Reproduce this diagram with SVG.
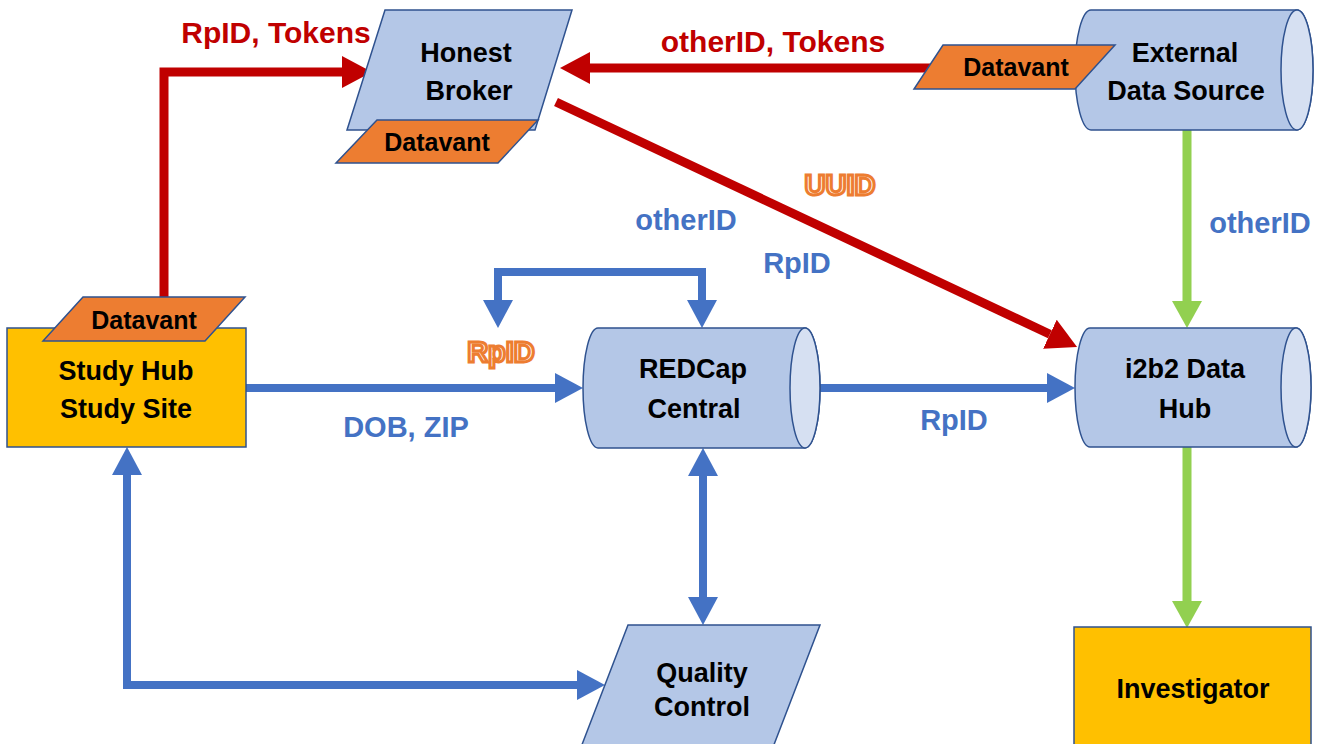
<svg xmlns="http://www.w3.org/2000/svg" width="1320" height="744" viewBox="0 0 1320 744">
<defs>
<style>
.node{fill:#B4C7E7;stroke:#2F528F;stroke-width:1.5}
.cap{fill:#D6E0F2;stroke:#2F528F;stroke-width:1.5}
.dv{fill:#ED7D31;stroke:#2F528F;stroke-width:1.5}
.gold{fill:#FFC000;stroke:#2F528F;stroke-width:1.5}
.t{font-family:"Liberation Sans",Arial,sans-serif;font-weight:bold;font-size:27px;fill:#000;text-anchor:middle}
.td{font-family:"Liberation Sans",Arial,sans-serif;font-weight:bold;font-size:25px;fill:#000;text-anchor:middle}
.lb{font-family:"Liberation Sans",Arial,sans-serif;font-weight:bold;font-size:29px;fill:#4472C4;text-anchor:middle}
.lr{font-family:"Liberation Sans",Arial,sans-serif;font-weight:bold;font-size:30px;fill:#C00000;text-anchor:middle}
.lo{font-family:"Liberation Sans",Arial,sans-serif;font-weight:bold;font-size:29px;fill:#FFF4EC;stroke:#ED7D31;stroke-width:3;text-anchor:middle}
.red{fill:none;stroke:#C00000;stroke-width:9}
.blue{fill:none;stroke:#4472C4;stroke-width:8}
.green{fill:none;stroke:#92D050;stroke-width:9}
</style>
<marker id="ar" markerUnits="userSpaceOnUse" markerWidth="32" markerHeight="32" refX="0" refY="16" orient="auto-start-reverse" viewBox="0 0 32 32"><path d="M0,0 L30,16 L0,32 z" fill="#C00000"/></marker>
<marker id="ab" markerUnits="userSpaceOnUse" markerWidth="30" markerHeight="30" refX="0" refY="15" orient="auto-start-reverse" viewBox="0 0 30 30"><path d="M0,0 L28,15 L0,30 z" fill="#4472C4"/></marker>
<marker id="ag" markerUnits="userSpaceOnUse" markerWidth="30" markerHeight="30" refX="0" refY="15" orient="auto-start-reverse" viewBox="0 0 30 30"><path d="M0,0 L27,15 L0,30 z" fill="#92D050"/></marker>
</defs>
<rect width="1320" height="744" fill="#FFFFFF"/>

<g id="connectors">
<path class="red" d="M164,298 V72 H342" marker-end="url(#ar)"/>
<path class="red" d="M936,68 H590" marker-end="url(#ar)"/>
<path class="red" d="M556,102 L1049.9,334.2" marker-end="url(#ar)"/>
<path class="blue" d="M246,388 H555" marker-end="url(#ab)"/>
<path class="blue" d="M820,388 H1047" marker-end="url(#ab)"/>
<path class="blue" d="M498,300 V272 H702 V300" marker-start="url(#ab)" marker-end="url(#ab)"/>
<path class="blue" d="M703,476 V597" marker-start="url(#ab)" marker-end="url(#ab)"/>
<path class="blue" d="M127,475 V685 H577" marker-start="url(#ab)" marker-end="url(#ab)"/>
<path class="green" d="M1187,130 V301" marker-end="url(#ag)"/>
<path class="green" d="M1187,447 V601" marker-end="url(#ag)"/>
</g>

<g id="labels">
<text class="lr" x="276" y="43">RpID, Tokens</text>
<text class="lr" x="773" y="52">otherID, Tokens</text>
<text class="lo" x="840" y="195">UUID</text>
<text class="lb" x="686" y="230">otherID</text>
<text class="lb" x="797" y="273">RpID</text>
<text class="lo" x="501" y="362">RpID</text>
<text class="lb" x="406" y="437">DOB, ZIP</text>
<text class="lb" x="954" y="430">RpID</text>
<text class="lb" x="1260" y="233">otherID</text>
</g>

<g id="honest-broker">
<polygon class="node" points="385,10 572,10 535,130 347,130"/>
<text class="t" x="466" y="62">Honest</text>
<text class="t" x="469" y="100">Broker</text>
<g id="datavant-hb">
<polygon class="dv" points="377,120 538,120 498,163 336,163"/>
<text class="td" x="437" y="151">Datavant</text>
</g>
</g>

<g id="external-data-source">
<path class="node" d="M1091,10 H1297 A16,60 0 0 1 1297,130 H1091 A16,60 0 0 1 1091,10 Z"/>
<ellipse class="cap" cx="1297" cy="70" rx="16" ry="60"/>
<text class="t" x="1185" y="62">External</text>
<text class="t" x="1186" y="100">Data Source</text>
</g>

<g id="datavant-ext">
<polygon class="dv" points="943,45 1115,45 1075,89 914,89"/>
<text class="td" x="1016" y="76">Datavant</text>
</g>

<g id="study-hub">
<rect class="gold" x="7" y="328" width="239" height="119"/>
<text class="t" x="126" y="380">Study Hub</text>
<text class="t" x="126" y="418">Study Site</text>
<g id="datavant-sh">
<polygon class="dv" points="83,297 245,297 205,341 43,341"/>
<text class="td" x="144" y="329">Datavant</text>
</g>
</g>

<g id="redcap-central">
<path class="node" d="M598,328 H805 A15,60 0 0 1 805,448 H598 A15,60 0 0 1 598,328 Z"/>
<ellipse class="cap" cx="805" cy="388" rx="15" ry="60"/>
<text class="t" x="693" y="378">REDCap</text>
<text class="t" x="694" y="418">Central</text>
</g>

<g id="i2b2-data-hub">
<path class="node" d="M1090,328 H1296 A15,59.5 0 0 1 1296,447 H1090 A15,59.5 0 0 1 1090,328 Z"/>
<ellipse class="cap" cx="1296" cy="387.5" rx="15" ry="59.5"/>
<text class="t" x="1185" y="378">i2b2 Data</text>
<text class="t" x="1185" y="418">Hub</text>
</g>

<g id="quality-control">
<polygon class="node" points="628,625 820,625 770,755 578,755"/>
<text class="t" x="702" y="682">Quality</text>
<text class="t" x="702" y="716">Control</text>
</g>

<g id="investigator">
<rect class="gold" x="1074" y="627" width="237" height="130"/>
<text class="t" x="1193" y="698">Investigator</text>
</g>
</svg>
